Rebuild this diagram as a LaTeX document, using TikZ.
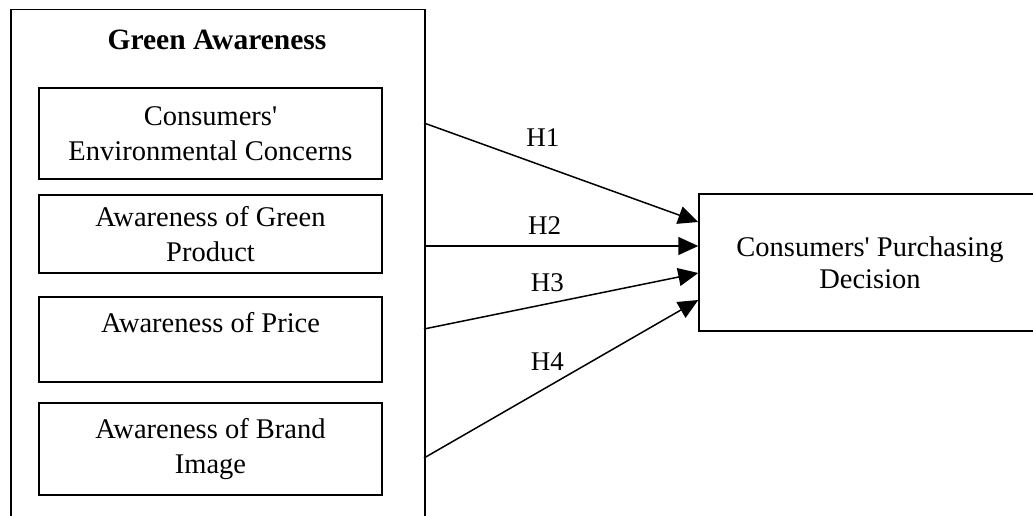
\documentclass[tikz,border=0pt]{standalone}
\usepackage{fontspec}
\setmainfont{Liberation Serif}
\usetikzlibrary{arrows.meta}
\tikzset{>={Triangle[length=20pt,width=18pt]}}
\tikzset{box/.style={draw,line width=1.5pt,inner sep=0pt,align=center,font=\fontsize{28.5}{35}\selectfont}}
\tikzset{hlab/.style={inner sep=0pt,font=\fontsize{27}{30}\selectfont}}
\newcommand{\aq}{\textquotesingle}

\begin{document}
\begin{tikzpicture}[x=1pt,y=-1pt]
  \useasboundingbox (0,0) rectangle (1033,516);
  \clip (0,0) rectangle (1033,516);
  \def\W{343pt}
  \node[box,minimum width=414pt,minimum height=540pt,anchor=north west] (GA) at (10,9) {};
  \node[font=\bfseries\fontsize{29.5}{32}\selectfont] (title) at (217,40) {Green Awareness};
  \node[box,minimum width=\W,minimum height=91pt] (CE) at (210.5,133.5) {Consumers\aq\\Environmental Concerns};
  \node[box,minimum width=\W,minimum height=78pt] (GP) at (210.5,234) {Awareness of Green\\Product};
  \node[box,minimum width=\W,minimum height=85pt] (PR) at (210.5,339.5) {Awareness of Price\\\mbox{}};
  \node[box,minimum width=\W,minimum height=92pt] (BI) at (210.5,449) {Awareness of Brand\\Image};
  \node[box,minimum width=342pt,minimum height=137pt,font=\fontsize{28.5}{32}\selectfont] (PD) at (870,262.5) {Consumers\aq{} Purchasing\\Decision};
  % arrows from the green awareness block
  \coordinate (s1) at (424,123);
  \coordinate (s2) at (424,246);
  \coordinate (s3) at (424,329);
  \coordinate (s4) at (424,458);
  \draw[->,line width=1.5pt] (s1) -- ([yshift=40.5pt]PD.west) node[hlab,pos=0.433,above=19pt] {H1};
  \draw[->,line width=1.5pt] (s2) -- ([yshift=16.5pt]PD.west) node[hlab,pos=0.44,above=11pt] {H2};
  \draw[->,line width=1.5pt] (s3) -- ([yshift=-10.5pt]PD.west) node[hlab,pos=0.45,above=11pt] {H3};
  \draw[->,line width=1.5pt] (s4) -- ([yshift=-37.5pt]PD.west) node[hlab,pos=0.45,above=16pt] {H4};
\end{tikzpicture}
\end{document}
